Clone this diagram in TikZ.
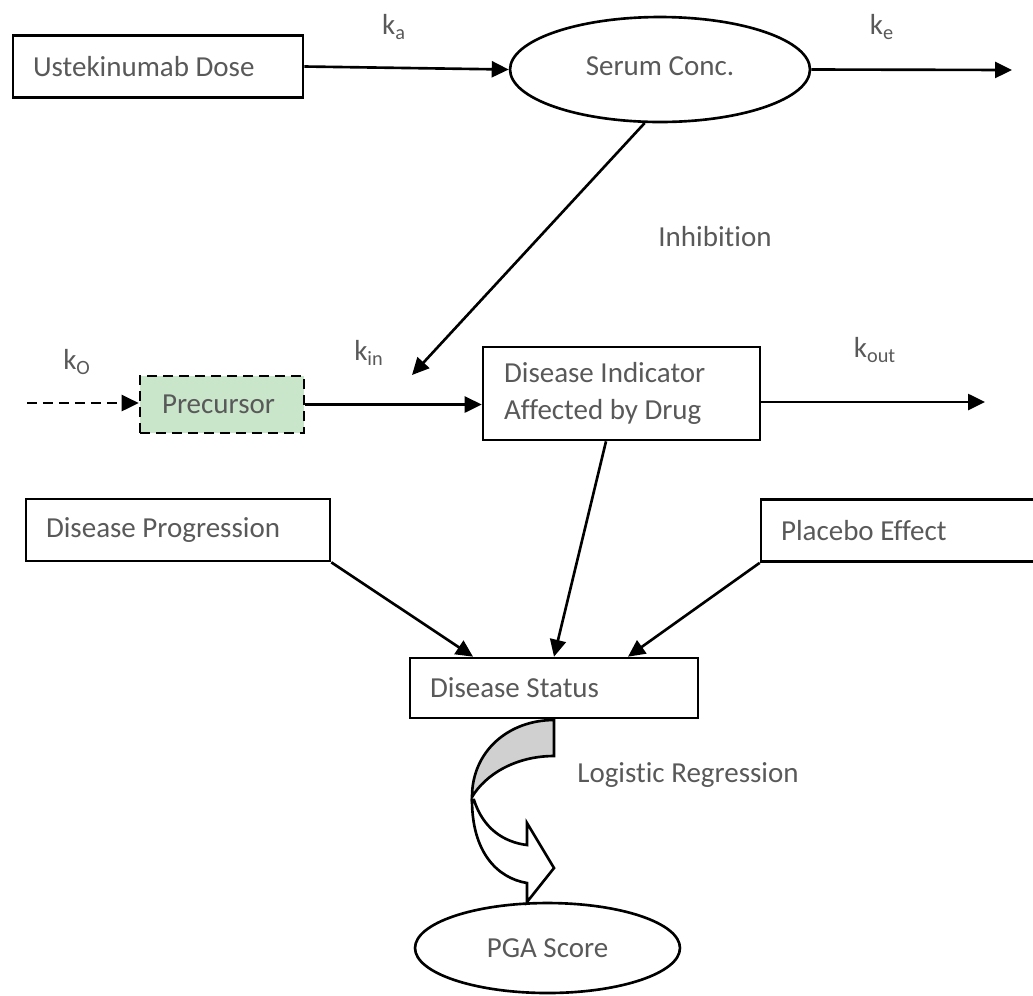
\documentclass[tikz,border=0pt]{standalone}
\usepackage{fontspec}
\setmainfont{Carlito}[Ligatures=NoCommon]
\usetikzlibrary{arrows.meta,shapes.geometric}
\definecolor{txtgray}{RGB}{89,89,89}
\definecolor{precgreen}{RGB}{201,229,202}
\definecolor{bandgray}{RGB}{208,208,208}

\begin{document}
\begin{tikzpicture}[x=0.02cm, y=-0.02cm,
    font=\fontsize{16.5}{21}\selectfont, text=txtgray,
    box/.style={draw=black, line width=1.5pt, rectangle, inner xsep=0.4cm, inner ysep=0pt, align=left,
                minimum height=1.24cm, execute at begin node={\spaceskip=0pt\xspaceskip=0pt\relax}},
    oval/.style={draw=black, line width=1.5pt, ellipse, inner sep=0pt},
    flow/.style={draw=black, line width=1.5pt, -{Triangle[length=0.34cm, width=0.32cm]}},
    rate/.style={inner sep=0pt}]
    \useasboundingbox (0,0) rectangle (1033,995);

    % ==========================================
    % Pharmacokinetics: dose -> serum
    % ==========================================
    \node[box, text width=5.0cm] (dose) at (158,66.5) {Ustekinumab Dose};
    \node[oval, minimum width=6cm, minimum height=2.1cm] (serum) at (660,69.5) {\raisebox{4pt}{Serum Conc.}};
    \coordinate (elim) at (1012,70);

    \draw[flow] (dose.east) -- (serum.west);
    \draw[flow] (serum.east) -- (elim);
    \node[rate] (ka) at (394,27) {k\textsubscript{a}};
    \node[rate] (ke) at (882,27) {k\textsubscript{e}};

    % ==========================================
    % Indirect response: precursor -> indicator
    % ==========================================
    \node[box, text width=2.4cm, inner xsep=0.44cm, minimum height=1.14cm, fill=precgreen,
          dash pattern=on 0.2cm off 0.12cm] (prec) at (222,404.5) {Precursor};
    \node[box, text width=4.7cm, inner xsep=0.42cm, minimum height=1.86cm] (ind) at (621.5,393.5)
        {Disease Indicator\\Affected by Drug};
    \coordinate (kzero) at (27,403);
    \coordinate (kinh) at (412,375);
    \coordinate (loss) at (985,402);

    \draw[flow, dash pattern=on 0.2cm off 0.12cm] (kzero) -- (kzero -| prec.west);
    \draw[flow] (prec.east) -- (prec.east -| ind.west);
    \draw[flow] (loss -| ind.east) -- (loss);
    \draw[flow] (serum.254) -- (kinh); % inhibition of k_in

    \node[rate] (ko) at (77,362) {k\textsubscript{O}};
    \node[rate] (kin) at (369,353) {k\textsubscript{in}};
    \node[rate] (kout) at (875,350) {k\textsubscript{out}};
    \node[rate] (inhib) at (715,237) {Inhibition};

    % ==========================================
    % Disease status and its inputs
    % ==========================================
    \node[box, text width=5.28cm] (prog) at (178,530) {Disease Progression};
    \node[box, text width=4.78cm] (plac) at (900.5,530.5) {Placebo Effect}; % runs past the right edge
    \node[box, text width=4.96cm, minimum height=1.2cm] (status) at (554,688) {Disease Status};

    \draw[flow] (prog.south east) -- ([xshift=-1.62cm]status.north);
    \draw[flow] ([xshift=-0.31cm]ind.south) -- (status.north);
    \draw[flow] (plac.south west) -- ([xshift=1.48cm]status.north);

    % ==========================================
    % Curved arrow to PGA score (logistic link)
    % ==========================================
    % front (white) part of the band with its head
    \filldraw[fill=white, draw=black, line width=1.5pt, line join=miter]
        (474,800) .. controls (483,828) and (503,842) .. (527,845)
        -- (527,823) -- (554,868) -- (527,902) -- (527,883)
        .. controls (497,878) and (472,852) .. (472,800) -- cycle;
    % back (gray) part of the band
    \filldraw[fill=bandgray, draw=black, line width=1.5pt]
        (554,720) .. controls (508.7,720) and (472,751) .. (472,797)
        .. controls (485,775) and (515,756) .. (554,756) -- cycle;

    \node[rate] (logit) at (688,775) {Logistic Regression};
    \node[oval, minimum width=5.3cm, minimum height=1.8cm] (pga) at (547.5,948) {PGA Score};
\end{tikzpicture}
\end{document}
